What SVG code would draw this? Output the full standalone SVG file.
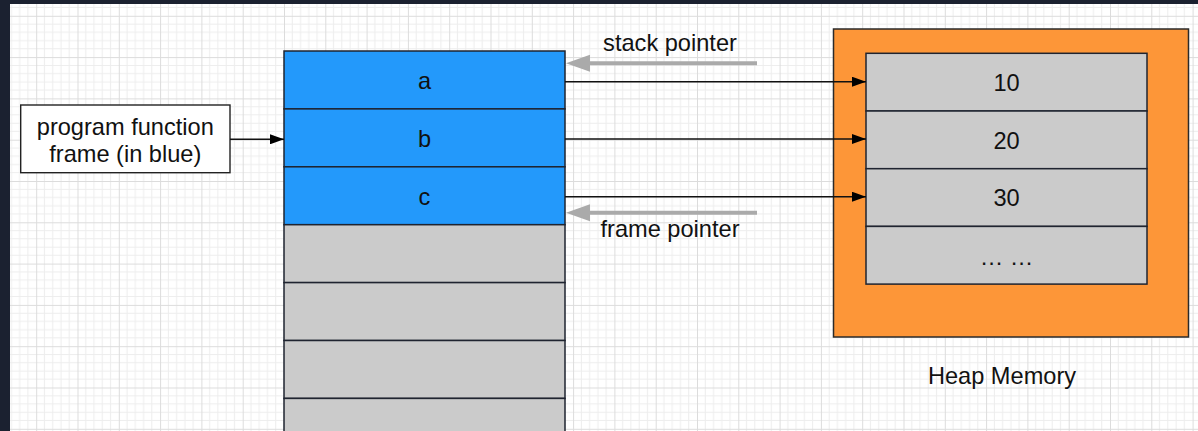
<svg xmlns="http://www.w3.org/2000/svg" width="1198" height="431" viewBox="0 0 1198 431">
  <defs>
    <pattern id="grid" x="36.2" y="15.8" width="41.3" height="41.3" patternUnits="userSpaceOnUse">
      <path d="M8.26 0V41.3M16.52 0V41.3M24.78 0V41.3M33.04 0V41.3M0 8.26H41.3M0 16.52H41.3M0 24.78H41.3M0 33.04H41.3" stroke="#ededed" stroke-width="1" fill="none"/>
      <path d="M0.5 0V41.3M0 0.5H41.3" stroke="#dcdcdc" stroke-width="1" fill="none"/>
    </pattern>
    <marker id="blk" viewBox="0 0 14 10" refX="14" refY="5" markerWidth="14" markerHeight="10" markerUnits="userSpaceOnUse" orient="auto">
      <path d="M0 0L14 5L0 10Z" fill="#000"/>
    </marker>
    <style>
      .t { font-family: "Liberation Sans", Arial, Helvetica, sans-serif; font-size: 23.6px; fill: #111; text-anchor: middle; }
      .blue { fill: #2399fb; stroke: #1f2430; stroke-width: 1.5; }
      .grey { fill: #cbcbcb; stroke: #1f2430; stroke-width: 1.5; }
      .conn { stroke: #111; stroke-width: 1.4; fill: none; }
      .gconn { stroke: #aaaaaa; stroke-width: 4; fill: none; }
    </style>
  </defs>
  <rect x="0" y="0" width="1198" height="431" fill="#ffffff"/>
  <rect x="0" y="0" width="1198" height="431" fill="url(#grid)"/>
  <rect x="0" y="0" width="1198" height="4" fill="#1b2130"/>
  <rect x="0" y="0" width="10" height="431" fill="#1b2130"/>

  <g id="frame-label">
    <rect x="20.7" y="105" width="209.3" height="67.7" fill="#ffffff" stroke="#222" stroke-width="1.4"/>
    <text class="t" x="125.3" y="135">program function</text>
    <text class="t" x="125.3" y="162">frame (in blue)</text>
  </g>

  <g id="stack">
    <g id="stack-a"><rect class="blue" x="284" y="51" width="281" height="57.9"/><text class="t" x="424.5" y="89">a</text></g>
    <g id="stack-b"><rect class="blue" x="284" y="108.9" width="281" height="57.9"/><text class="t" x="424.5" y="147">b</text></g>
    <g id="stack-c"><rect class="blue" x="284" y="166.8" width="281" height="57.9"/><text class="t" x="424.5" y="205">c</text></g>
    <rect class="grey" x="284" y="224.7" width="281" height="57.9"/>
    <rect class="grey" x="284" y="282.6" width="281" height="57.9"/>
    <rect class="grey" x="284" y="340.5" width="281" height="57.9"/>
    <rect class="grey" x="284" y="398.4" width="281" height="57.9"/>
  </g>

  <g id="heap">
    <rect x="833.5" y="29" width="355" height="308" fill="#fd9638" stroke="#2a2a2a" stroke-width="1.5"/>
    <g id="heap-10"><rect class="grey" x="866" y="53.3" width="281" height="57.7"/><text class="t" x="1006.5" y="91">10</text></g>
    <g id="heap-20"><rect class="grey" x="866" y="111" width="281" height="57.7"/><text class="t" x="1006.5" y="148.5">20</text></g>
    <g id="heap-30"><rect class="grey" x="866" y="168.7" width="281" height="57.7"/><text class="t" x="1006.5" y="206">30</text></g>
    <g id="heap-more"><rect class="grey" x="866" y="226.4" width="281" height="57.7"/><text class="t" x="1006.5" y="265">… …</text></g>
  </g>
  <g id="heap-label"><text class="t" x="1002" y="383.5">Heap Memory</text></g>

  <g id="pointer-labels">
    <text class="t" x="670" y="51">stack pointer</text>
    <text class="t" x="670" y="237">frame pointer</text>
  </g>

  <g id="connectors">
    <line class="conn" x1="230" y1="139.3" x2="284" y2="139.3" marker-end="url(#blk)"/>
    <line class="conn" x1="565" y1="81.7" x2="866" y2="81.7" marker-end="url(#blk)"/>
    <line class="conn" x1="565" y1="139" x2="866" y2="139" marker-end="url(#blk)"/>
    <line class="conn" x1="565" y1="196.7" x2="866" y2="196.7" marker-end="url(#blk)"/>
    <line class="gconn" x1="757" y1="63.3" x2="590" y2="63.3"/>
    <path d="M566 63.3L590 54.8L590 71.8Z" fill="#aaaaaa"/>
    <line class="gconn" x1="757" y1="212.7" x2="590" y2="212.7"/>
    <path d="M566 212.7L590 204.2L590 221.2Z" fill="#aaaaaa"/>
  </g>
</svg>
